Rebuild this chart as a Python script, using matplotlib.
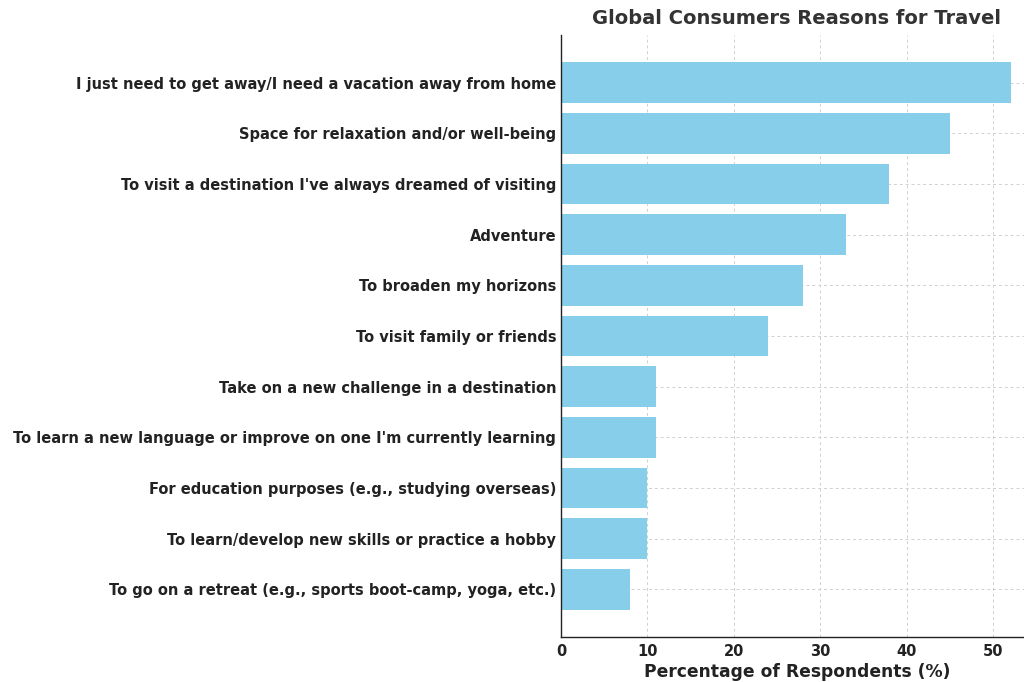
import matplotlib
matplotlib.use("Agg")
import matplotlib.pyplot as plt

reasons = [
    "I just need to get away/I need a vacation away from home",
    "Space for relaxation and/or well-being",
    "To visit a destination I've always dreamed of visiting",
    "Adventure",
    "To broaden my horizons",
    "To visit family or friends",
    "Take on a new challenge in a destination",
    "To learn a new language or improve on one I'm currently learning",
    "For education purposes (e.g., studying overseas)",
    "To learn/develop new skills or practice a hobby",
    "To go on a retreat (e.g., sports boot-camp, yoga, etc.)",
]
percentages = [52, 45, 38, 33, 28, 24, 11, 11, 10, 10, 8]

fig = plt.figure(figsize=(10.24, 6.82), dpi=100)
left_px, right_px = 561, 1033
ax = fig.add_axes([left_px/1024, 1 - 637/682, (right_px - left_px)/1024, (637 - 35)/682])

ax.barh(reasons[::-1], percentages[::-1], color="#87CEEB", height=0.8)
ax.set_xlim(0, 54.6)
ax.grid(True, linestyle=(0, (3, 3)), color="#d0d0d0", linewidth=0.7)
ax.set_axisbelow(True)
for s in ["top", "right"]:
    ax.spines[s].set_visible(False)
for s in ["left", "bottom"]:
    ax.spines[s].set_color("#222222")
    ax.spines[s].set_linewidth(1.0)
ax.tick_params(axis="y", direction="in", colors="#222222", labelsize=10.5, length=4)
ax.tick_params(axis="x", length=0, colors="#222222", labelsize=10.5, pad=5)
for lab in ax.get_yticklabels() + ax.get_xticklabels():
    lab.set_fontweight("bold")
for t in ax.yaxis.get_major_ticks():
    t.tick1line.set_zorder(5)
ax.set_xlabel("Percentage of Respondents (%)", fontsize=12.3, fontweight="bold",
              color="#222222", labelpad=3)
ax.set_title("Global Consumers Reasons for Travel", fontsize=14, fontweight="bold",
             color="#333333", pad=8)

fig.savefig("out.png", dpi=100)
